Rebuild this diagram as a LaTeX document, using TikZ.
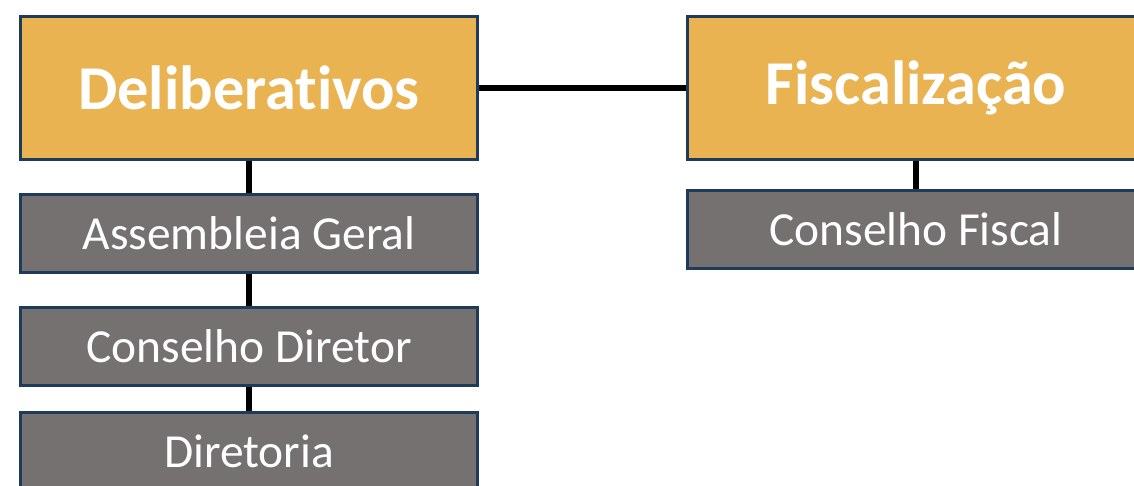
\documentclass[tikz,border=0pt]{standalone}
\usepackage{fontspec}
\setmainfont{Carlito}[Ligatures={NoCommon,NoContextual}]
\usepackage{xcolor}
\usetikzlibrary{positioning}
\definecolor{gold}{HTML}{EAB352}
\definecolor{slate}{HTML}{767171}
\definecolor{navy}{HTML}{1F3B5C}

\begin{document}
\begin{tikzpicture}[x=0.02cm,y=-0.02cm]
\tikzset{
  head/.style={draw=navy,fill=gold,line width=0.06cm,inner sep=0pt,minimum width=9.14cm,minimum height=2.86cm,text=white,font=\fontsize{35.5}{40}\selectfont\bfseries},
  member/.style={draw=navy,fill=slate,line width=0.06cm,inner sep=0pt,minimum width=9.14cm,minimum height=1.56cm,text=white,font=\fontsize{27}{32}\selectfont},
  link/.style={draw=black,line width=0.12cm}
}
\clip (0,0) rectangle (1134,485);
\useasboundingbox (0,0) rectangle (1134,485);
% left column
\node[head] (delib) at (249,88) {Deliberat\kern0pt ivos};
\node[member] (assemb) at (249,233) {Assembleia Geral};
\node[member] (condir) at (249,346) {Conselho Diretor};
\node[member] (dir) at (249,451) {Diretoria};
% right column
\node[head] (fisc) at (916,88) {Fiscalização};
\node[member] (confis) at (916,229.5) {Conselho Fiscal};
% connectors
\draw[link] (delib.east) -- (fisc.west);
\draw[link] (delib.south) -- (assemb.north);
\draw[link] (assemb.south) -- (condir.north);
\draw[link] (condir.south) -- (dir.north);
\draw[link] (fisc.south) -- (confis.north);
\end{tikzpicture}
\end{document}
